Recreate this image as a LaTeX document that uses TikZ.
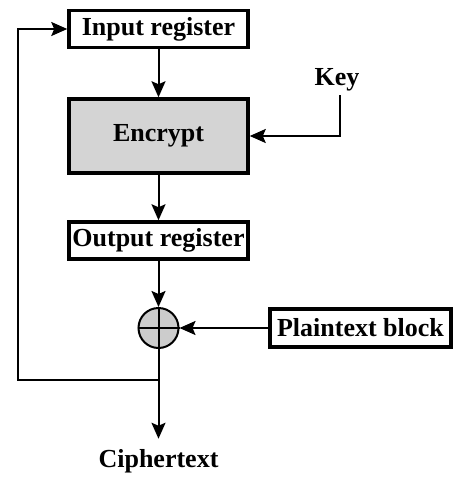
\documentclass[tikz,border=0pt]{standalone}
\usepackage{fontspec}
\setmainfont{Liberation Serif}
\usetikzlibrary{arrows.meta}

\tikzset{
  regbox/.style={draw, line width=3.5pt, inner sep=0pt, minimum width=179pt, minimum height=37pt, font=\fontsize{26}{30}\selectfont\bfseries},
  arr/.style={line width=2pt, -{Stealth[length=16pt, width=14pt, inset=3pt]}},
  plain/.style={line width=2pt},
  lbl/.style={font=\fontsize{26}{30}\selectfont\bfseries}
}

\begin{document}
\begin{tikzpicture}[x=1pt, y=-1pt]
\useasboundingbox (0,0) rectangle (459,477);

% registers and cipher
\node[regbox] (inreg) at (158.5,29) {Input register};
\node[regbox, fill=black!17, minimum height=74pt] (enc) at (158.5,136) {Encrypt};
\node[regbox] (outreg) at (158.5,240.5) {Output register};

% xor
\node[draw, circle, line width=2pt, fill=black!20, minimum size=40pt, inner sep=0pt] (xor) at (158.5,328) {};
\draw[plain] (xor.north) -- (xor.south);
\draw[plain] (xor.west) -- (xor.east);

% plaintext input
\node[regbox, minimum width=181pt, minimum height=38pt] (ptb) at (360.5,328) {Plaintext block};

% key
\node[lbl] (key) at (337,80) {Key};
\coordinate (keytop) at (340,95);

% output
\node[lbl, inner sep=10pt, anchor=base] (ctext) at (158.5,467) {Ciphertext};

% flechas
\draw[arr] (inreg) -- (enc);
\draw[arr] (enc) -- (outreg);
\draw[arr] (outreg) -- (xor);
\draw[arr] (keytop) |- (enc.east);
\draw[arr] (ptb) -- (xor);
\draw[arr] (xor) -- (ctext);

% feedback
\coordinate (jn) at (158.5,380);
\coordinate (fbcorner) at (18,380);
\draw[arr] (jn) -- (fbcorner) |- (inreg.west);

\end{tikzpicture}
\end{document}
